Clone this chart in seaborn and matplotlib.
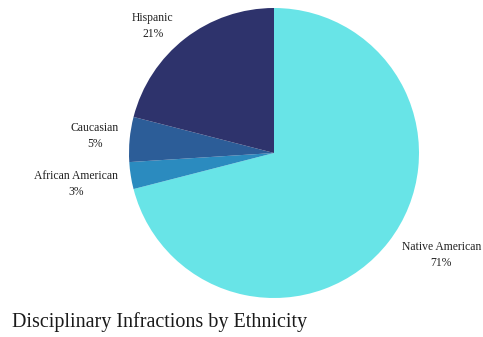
import numpy as np
import matplotlib
matplotlib.use("Agg")
import matplotlib.pyplot as plt
import seaborn as sns

# Share of disciplinary infractions by ethnicity (percent)
groups = ["Native American", "African American", "Caucasian", "Hispanic"]
shares = [71, 3, 5, 21]
colors = ["#68e4e7", "#2b8bbf", "#2c5d98", "#2e336c"]

# label placement: distance from the centre (in radii) and angular nudge (deg)
label_dist = [1.35, 1.38, 1.24, 1.21]
label_turn = [6.5, 0.0, 0.0, 6.0]

sns.set_style("white")
plt.rcParams["font.family"] = ["Liberation Serif", "DejaVu Serif"]

fig = plt.figure(figsize=(4.83, 3.37), dpi=100)
W, H = 483, 337
cx, cy, r = 274, 153, 145
ax = fig.add_axes([(cx - r) / W, (H - cy - r) / H, 2 * r / W, 2 * r / H])

wedges, _ = ax.pie(shares, colors=colors, startangle=90, counterclock=False,
                   radius=1, wedgeprops=dict(linewidth=0))
ax.set_xlim(-1, 1)
ax.set_ylim(-1, 1)
ax.set_aspect("equal")
ax.axis("off")

for w, name, val, d, t in zip(wedges, groups, shares, label_dist, label_turn):
    ang = np.deg2rad((w.theta1 + w.theta2) / 2 + t)
    ax.text(d * np.cos(ang), d * np.sin(ang), f"{name}\n{val}%",
            ha="center", va="center", fontsize=8.4, color="#222222",
            linespacing=1.45, clip_on=False)

fig.text(12 / W, 1 - 327 / H, "Disciplinary Infractions by Ethnicity",
         ha="left", va="baseline", fontsize=14.5, color="#1a1a1a")

fig.savefig("out.png", dpi=100, facecolor="white")
